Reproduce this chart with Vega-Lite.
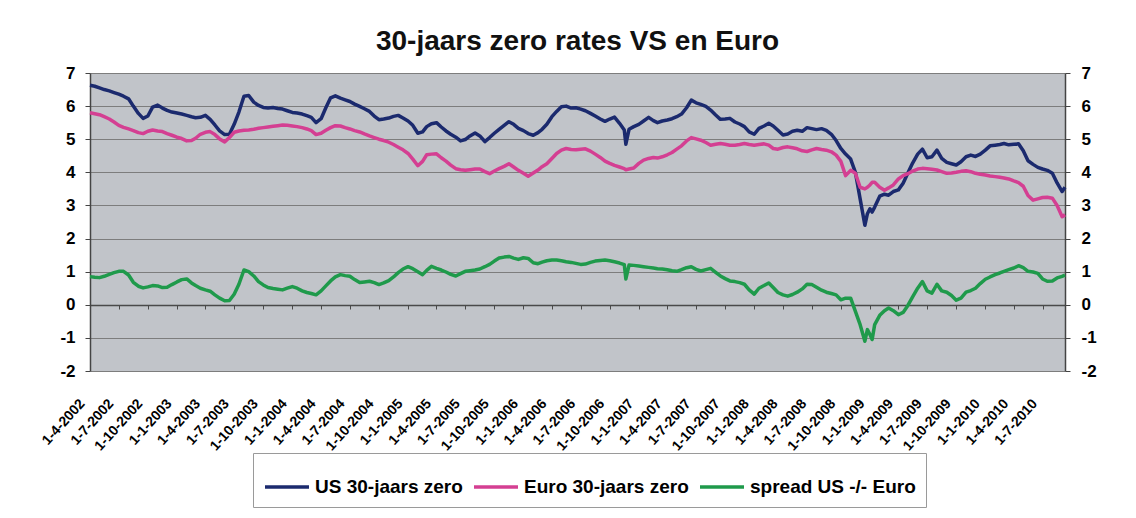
{
  "$schema": "https://vega.github.io/schema/vega-lite/v6.json",
  "width": 975,
  "height": 298,
  "autosize": "none",
  "padding": {"left": 90, "top": 73, "right": 71, "bottom": 147},
  "background": "white",
  "view": {"fill": "#c1c4c9", "stroke": null},
  "title": {"text": "30-jaars zero rates VS en Euro", "font": "Liberation Sans", "fontSize": 28, "fontWeight": "bold", "color": "#111111", "anchor": "middle", "offset": 8},
  "data": {"values": [
    {"d":"2002-04-01","us":6.63,"eu":5.80,"sp":0.85},
    {"d":"2002-04-16","us":6.60,"eu":5.77,"sp":0.83},
    {"d":"2002-05-01","us":6.55,"eu":5.74,"sp":0.82},
    {"d":"2002-05-16","us":6.50,"eu":5.68,"sp":0.86},
    {"d":"2002-06-01","us":6.46,"eu":5.61,"sp":0.92},
    {"d":"2002-06-16","us":6.41,"eu":5.52,"sp":0.97},
    {"d":"2002-07-01","us":6.36,"eu":5.42,"sp":1.01},
    {"d":"2002-07-16","us":6.30,"eu":5.36,"sp":1.01},
    {"d":"2002-08-01","us":6.22,"eu":5.31,"sp":0.90},
    {"d":"2002-08-16","us":6.00,"eu":5.26,"sp":0.68},
    {"d":"2002-09-01","us":5.78,"eu":5.20,"sp":0.56},
    {"d":"2002-09-16","us":5.63,"eu":5.17,"sp":0.51},
    {"d":"2002-10-01","us":5.70,"eu":5.24,"sp":0.54},
    {"d":"2002-10-16","us":5.97,"eu":5.28,"sp":0.58},
    {"d":"2002-11-01","us":6.03,"eu":5.25,"sp":0.57},
    {"d":"2002-11-16","us":5.94,"eu":5.23,"sp":0.52},
    {"d":"2002-12-01","us":5.87,"eu":5.17,"sp":0.53},
    {"d":"2002-12-16","us":5.82,"eu":5.12,"sp":0.61},
    {"d":"2003-01-01","us":5.79,"eu":5.06,"sp":0.69},
    {"d":"2003-01-16","us":5.76,"eu":5.02,"sp":0.76},
    {"d":"2003-02-01","us":5.72,"eu":4.95,"sp":0.78},
    {"d":"2003-02-16","us":5.68,"eu":4.96,"sp":0.66},
    {"d":"2003-03-01","us":5.65,"eu":5.03,"sp":0.58},
    {"d":"2003-03-16","us":5.66,"eu":5.15,"sp":0.50},
    {"d":"2003-04-01","us":5.72,"eu":5.21,"sp":0.45},
    {"d":"2003-04-16","us":5.60,"eu":5.23,"sp":0.41},
    {"d":"2003-05-01","us":5.43,"eu":5.14,"sp":0.30},
    {"d":"2003-05-16","us":5.25,"eu":5.01,"sp":0.20},
    {"d":"2003-06-01","us":5.14,"eu":4.92,"sp":0.12},
    {"d":"2003-06-16","us":5.15,"eu":5.05,"sp":0.13},
    {"d":"2003-07-01","us":5.45,"eu":5.21,"sp":0.32},
    {"d":"2003-07-16","us":5.82,"eu":5.25,"sp":0.62},
    {"d":"2003-08-01","us":6.30,"eu":5.27,"sp":1.05},
    {"d":"2003-08-16","us":6.32,"eu":5.28,"sp":1.00},
    {"d":"2003-09-01","us":6.12,"eu":5.30,"sp":0.87},
    {"d":"2003-09-16","us":6.02,"eu":5.33,"sp":0.70},
    {"d":"2003-10-01","us":5.96,"eu":5.35,"sp":0.60},
    {"d":"2003-10-16","us":5.94,"eu":5.37,"sp":0.52},
    {"d":"2003-11-01","us":5.96,"eu":5.39,"sp":0.49},
    {"d":"2003-11-16","us":5.93,"eu":5.41,"sp":0.47},
    {"d":"2003-12-01","us":5.91,"eu":5.43,"sp":0.45},
    {"d":"2003-12-16","us":5.86,"eu":5.42,"sp":0.50},
    {"d":"2004-01-01","us":5.81,"eu":5.40,"sp":0.55},
    {"d":"2004-01-16","us":5.79,"eu":5.38,"sp":0.50},
    {"d":"2004-02-01","us":5.76,"eu":5.35,"sp":0.42},
    {"d":"2004-02-16","us":5.71,"eu":5.31,"sp":0.37},
    {"d":"2004-03-01","us":5.66,"eu":5.26,"sp":0.34},
    {"d":"2004-03-16","us":5.50,"eu":5.14,"sp":0.30},
    {"d":"2004-04-01","us":5.62,"eu":5.18,"sp":0.42},
    {"d":"2004-04-16","us":5.95,"eu":5.27,"sp":0.57},
    {"d":"2004-05-01","us":6.25,"eu":5.35,"sp":0.72},
    {"d":"2004-05-16","us":6.31,"eu":5.41,"sp":0.84},
    {"d":"2004-06-01","us":6.24,"eu":5.40,"sp":0.91},
    {"d":"2004-06-16","us":6.19,"eu":5.35,"sp":0.88},
    {"d":"2004-07-01","us":6.14,"eu":5.31,"sp":0.86},
    {"d":"2004-07-16","us":6.06,"eu":5.26,"sp":0.76},
    {"d":"2004-08-01","us":5.99,"eu":5.22,"sp":0.67},
    {"d":"2004-08-16","us":5.92,"eu":5.16,"sp":0.69},
    {"d":"2004-09-01","us":5.84,"eu":5.10,"sp":0.71},
    {"d":"2004-09-16","us":5.70,"eu":5.05,"sp":0.67},
    {"d":"2004-10-01","us":5.59,"eu":5.00,"sp":0.61},
    {"d":"2004-10-16","us":5.61,"eu":4.96,"sp":0.66},
    {"d":"2004-11-01","us":5.64,"eu":4.91,"sp":0.73},
    {"d":"2004-11-16","us":5.69,"eu":4.84,"sp":0.84},
    {"d":"2004-12-01","us":5.72,"eu":4.76,"sp":0.97},
    {"d":"2004-12-16","us":5.64,"eu":4.68,"sp":1.08},
    {"d":"2005-01-01","us":5.55,"eu":4.57,"sp":1.15},
    {"d":"2005-01-16","us":5.42,"eu":4.40,"sp":1.09},
    {"d":"2005-02-01","us":5.18,"eu":4.20,"sp":1.00},
    {"d":"2005-02-16","us":5.22,"eu":4.33,"sp":0.91},
    {"d":"2005-03-01","us":5.38,"eu":4.53,"sp":1.04},
    {"d":"2005-03-16","us":5.47,"eu":4.55,"sp":1.16},
    {"d":"2005-04-01","us":5.50,"eu":4.56,"sp":1.10},
    {"d":"2005-04-16","us":5.37,"eu":4.44,"sp":1.05},
    {"d":"2005-05-01","us":5.25,"eu":4.34,"sp":0.99},
    {"d":"2005-05-16","us":5.15,"eu":4.22,"sp":0.92},
    {"d":"2005-06-01","us":5.06,"eu":4.11,"sp":0.87},
    {"d":"2005-06-16","us":4.95,"eu":4.08,"sp":0.94},
    {"d":"2005-07-01","us":4.99,"eu":4.06,"sp":1.01},
    {"d":"2005-07-16","us":5.10,"eu":4.08,"sp":1.03},
    {"d":"2005-08-01","us":5.19,"eu":4.10,"sp":1.05},
    {"d":"2005-08-16","us":5.10,"eu":4.10,"sp":1.08},
    {"d":"2005-09-01","us":4.93,"eu":4.02,"sp":1.15},
    {"d":"2005-09-16","us":5.05,"eu":3.96,"sp":1.22},
    {"d":"2005-10-01","us":5.18,"eu":4.04,"sp":1.32},
    {"d":"2005-10-16","us":5.30,"eu":4.11,"sp":1.41},
    {"d":"2005-11-01","us":5.42,"eu":4.18,"sp":1.44},
    {"d":"2005-11-16","us":5.53,"eu":4.26,"sp":1.46},
    {"d":"2005-12-01","us":5.45,"eu":4.16,"sp":1.41},
    {"d":"2005-12-16","us":5.33,"eu":4.06,"sp":1.37},
    {"d":"2006-01-01","us":5.26,"eu":3.97,"sp":1.42},
    {"d":"2006-01-16","us":5.17,"eu":3.88,"sp":1.40},
    {"d":"2006-02-01","us":5.12,"eu":3.98,"sp":1.27},
    {"d":"2006-02-16","us":5.20,"eu":4.07,"sp":1.24},
    {"d":"2006-03-01","us":5.30,"eu":4.17,"sp":1.29},
    {"d":"2006-03-16","us":5.45,"eu":4.26,"sp":1.33},
    {"d":"2006-04-01","us":5.68,"eu":4.42,"sp":1.35},
    {"d":"2006-04-16","us":5.84,"eu":4.57,"sp":1.35},
    {"d":"2006-05-01","us":5.98,"eu":4.67,"sp":1.33},
    {"d":"2006-05-16","us":6.00,"eu":4.72,"sp":1.30},
    {"d":"2006-06-01","us":5.94,"eu":4.69,"sp":1.28},
    {"d":"2006-06-16","us":5.95,"eu":4.68,"sp":1.25},
    {"d":"2006-07-01","us":5.91,"eu":4.70,"sp":1.22},
    {"d":"2006-07-16","us":5.86,"eu":4.71,"sp":1.23},
    {"d":"2006-08-01","us":5.78,"eu":4.64,"sp":1.28},
    {"d":"2006-08-16","us":5.70,"eu":4.55,"sp":1.32},
    {"d":"2006-09-01","us":5.61,"eu":4.45,"sp":1.34},
    {"d":"2006-09-16","us":5.54,"eu":4.34,"sp":1.35},
    {"d":"2006-10-01","us":5.61,"eu":4.27,"sp":1.33},
    {"d":"2006-10-16","us":5.67,"eu":4.21,"sp":1.30},
    {"d":"2006-11-01","us":5.48,"eu":4.16,"sp":1.26},
    {"d":"2006-11-16","us":5.28,"eu":4.11,"sp":1.21},
    {"d":"2006-11-21","us":4.85,"eu":4.08,"sp":0.78},
    {"d":"2006-12-01","us":5.30,"eu":4.10,"sp":1.20},
    {"d":"2006-12-16","us":5.38,"eu":4.13,"sp":1.19},
    {"d":"2007-01-01","us":5.45,"eu":4.27,"sp":1.17},
    {"d":"2007-01-16","us":5.55,"eu":4.37,"sp":1.15},
    {"d":"2007-02-01","us":5.66,"eu":4.42,"sp":1.13},
    {"d":"2007-02-16","us":5.56,"eu":4.45,"sp":1.11},
    {"d":"2007-03-01","us":5.50,"eu":4.43,"sp":1.09},
    {"d":"2007-03-16","us":5.55,"eu":4.47,"sp":1.08},
    {"d":"2007-04-01","us":5.58,"eu":4.53,"sp":1.06},
    {"d":"2007-04-16","us":5.62,"eu":4.60,"sp":1.03},
    {"d":"2007-05-01","us":5.68,"eu":4.70,"sp":1.01},
    {"d":"2007-05-16","us":5.76,"eu":4.80,"sp":1.06},
    {"d":"2007-06-01","us":5.95,"eu":4.95,"sp":1.12},
    {"d":"2007-06-16","us":6.18,"eu":5.05,"sp":1.15},
    {"d":"2007-07-01","us":6.10,"eu":5.01,"sp":1.07},
    {"d":"2007-07-16","us":6.05,"eu":4.97,"sp":1.02},
    {"d":"2007-08-01","us":5.99,"eu":4.90,"sp":1.06},
    {"d":"2007-08-16","us":5.88,"eu":4.82,"sp":1.10},
    {"d":"2007-09-01","us":5.73,"eu":4.85,"sp":0.98},
    {"d":"2007-09-16","us":5.60,"eu":4.87,"sp":0.87},
    {"d":"2007-10-01","us":5.61,"eu":4.85,"sp":0.79},
    {"d":"2007-10-16","us":5.63,"eu":4.82,"sp":0.72},
    {"d":"2007-11-01","us":5.52,"eu":4.82,"sp":0.70},
    {"d":"2007-11-16","us":5.46,"eu":4.84,"sp":0.67},
    {"d":"2007-12-01","us":5.38,"eu":4.87,"sp":0.62},
    {"d":"2007-12-16","us":5.22,"eu":4.84,"sp":0.45},
    {"d":"2008-01-01","us":5.15,"eu":4.82,"sp":0.32},
    {"d":"2008-01-16","us":5.33,"eu":4.84,"sp":0.50},
    {"d":"2008-02-01","us":5.40,"eu":4.86,"sp":0.58},
    {"d":"2008-02-16","us":5.48,"eu":4.82,"sp":0.66},
    {"d":"2008-03-01","us":5.40,"eu":4.72,"sp":0.52},
    {"d":"2008-03-16","us":5.27,"eu":4.70,"sp":0.37},
    {"d":"2008-04-01","us":5.13,"eu":4.75,"sp":0.30},
    {"d":"2008-04-16","us":5.16,"eu":4.77,"sp":0.26},
    {"d":"2008-05-01","us":5.24,"eu":4.74,"sp":0.31},
    {"d":"2008-05-16","us":5.27,"eu":4.71,"sp":0.38},
    {"d":"2008-06-01","us":5.24,"eu":4.65,"sp":0.48},
    {"d":"2008-06-16","us":5.35,"eu":4.63,"sp":0.62},
    {"d":"2008-07-01","us":5.32,"eu":4.68,"sp":0.61},
    {"d":"2008-07-16","us":5.29,"eu":4.72,"sp":0.53},
    {"d":"2008-08-01","us":5.32,"eu":4.69,"sp":0.44},
    {"d":"2008-08-16","us":5.27,"eu":4.67,"sp":0.38},
    {"d":"2008-09-01","us":5.15,"eu":4.62,"sp":0.34},
    {"d":"2008-09-16","us":4.96,"eu":4.52,"sp":0.30},
    {"d":"2008-10-01","us":4.72,"eu":4.33,"sp":0.15},
    {"d":"2008-10-16","us":4.55,"eu":3.90,"sp":0.20},
    {"d":"2008-11-01","us":4.40,"eu":4.06,"sp":0.20},
    {"d":"2008-11-16","us":4.00,"eu":3.97,"sp":-0.20},
    {"d":"2008-12-01","us":3.20,"eu":3.55,"sp":-0.60},
    {"d":"2008-12-16","us":2.40,"eu":3.50,"sp":-1.10},
    {"d":"2008-12-24","us":2.75,"eu":3.55,"sp":-0.75},
    {"d":"2009-01-01","us":2.90,"eu":3.62,"sp":-0.90},
    {"d":"2009-01-08","us":2.80,"eu":3.70,"sp":-1.05},
    {"d":"2009-01-16","us":2.95,"eu":3.70,"sp":-0.60},
    {"d":"2009-02-01","us":3.28,"eu":3.55,"sp":-0.32},
    {"d":"2009-02-16","us":3.34,"eu":3.46,"sp":-0.18},
    {"d":"2009-03-01","us":3.31,"eu":3.53,"sp":-0.10},
    {"d":"2009-03-16","us":3.42,"eu":3.62,"sp":-0.18},
    {"d":"2009-04-01","us":3.47,"eu":3.80,"sp":-0.30},
    {"d":"2009-04-16","us":3.67,"eu":3.90,"sp":-0.23},
    {"d":"2009-05-01","us":3.98,"eu":3.96,"sp":-0.02},
    {"d":"2009-05-16","us":4.28,"eu":4.04,"sp":0.24},
    {"d":"2009-06-01","us":4.55,"eu":4.10,"sp":0.50},
    {"d":"2009-06-16","us":4.70,"eu":4.12,"sp":0.70},
    {"d":"2009-07-01","us":4.44,"eu":4.11,"sp":0.42},
    {"d":"2009-07-16","us":4.47,"eu":4.09,"sp":0.35},
    {"d":"2009-08-01","us":4.67,"eu":4.07,"sp":0.62},
    {"d":"2009-08-16","us":4.42,"eu":4.02,"sp":0.42},
    {"d":"2009-09-01","us":4.30,"eu":3.97,"sp":0.38},
    {"d":"2009-09-16","us":4.26,"eu":3.98,"sp":0.28},
    {"d":"2009-10-01","us":4.22,"eu":4.00,"sp":0.14},
    {"d":"2009-10-16","us":4.32,"eu":4.03,"sp":0.20},
    {"d":"2009-11-01","us":4.47,"eu":4.05,"sp":0.38},
    {"d":"2009-11-16","us":4.52,"eu":4.02,"sp":0.43},
    {"d":"2009-12-01","us":4.48,"eu":3.97,"sp":0.50},
    {"d":"2009-12-16","us":4.55,"eu":3.94,"sp":0.64},
    {"d":"2010-01-01","us":4.67,"eu":3.92,"sp":0.77},
    {"d":"2010-01-16","us":4.80,"eu":3.89,"sp":0.84},
    {"d":"2010-02-01","us":4.82,"eu":3.87,"sp":0.91},
    {"d":"2010-02-16","us":4.84,"eu":3.85,"sp":0.96},
    {"d":"2010-03-01","us":4.87,"eu":3.83,"sp":1.01},
    {"d":"2010-03-16","us":4.83,"eu":3.80,"sp":1.06},
    {"d":"2010-04-01","us":4.85,"eu":3.74,"sp":1.11},
    {"d":"2010-04-16","us":4.86,"eu":3.69,"sp":1.18},
    {"d":"2010-05-01","us":4.65,"eu":3.58,"sp":1.12},
    {"d":"2010-05-16","us":4.35,"eu":3.30,"sp":1.01},
    {"d":"2010-06-01","us":4.24,"eu":3.16,"sp":0.99},
    {"d":"2010-06-16","us":4.15,"eu":3.20,"sp":0.95},
    {"d":"2010-07-01","us":4.10,"eu":3.24,"sp":0.78},
    {"d":"2010-07-16","us":4.06,"eu":3.25,"sp":0.71},
    {"d":"2010-08-01","us":3.97,"eu":3.22,"sp":0.72},
    {"d":"2010-08-16","us":3.68,"eu":3.00,"sp":0.81},
    {"d":"2010-09-01","us":3.42,"eu":2.66,"sp":0.86},
    {"d":"2010-09-10","us":3.55,"eu":2.72,"sp":0.90}
  ]},
  "transform": [{"fold": ["us", "eu", "sp"], "as": ["series", "value"]}],
  "resolve": {"axis": {"x": "independent", "y": "independent"}},
  "layer": [
    {
      "mark": {"type": "line", "strokeWidth": 3.5, "strokeJoin": "round"},
      "encoding": {
        "x": {
          "field": "d", "type": "temporal",
          "scale": {"type": "utc", "domain": [{"year": 2002, "month": 4, "date": 1, "utc": true}, {"year": 2010, "month": 9, "date": 10, "utc": true}]},
          "axis": {
            "title": null, "orient": "bottom", "grid": false, "domain": false, "ticks": false,
            "values": [
              {"year":2002,"month":4,"date":1,"utc":true},{"year":2002,"month":7,"date":1,"utc":true},{"year":2002,"month":10,"date":1,"utc":true},
              {"year":2003,"month":1,"date":1,"utc":true},{"year":2003,"month":4,"date":1,"utc":true},{"year":2003,"month":7,"date":1,"utc":true},{"year":2003,"month":10,"date":1,"utc":true},
              {"year":2004,"month":1,"date":1,"utc":true},{"year":2004,"month":4,"date":1,"utc":true},{"year":2004,"month":7,"date":1,"utc":true},{"year":2004,"month":10,"date":1,"utc":true},
              {"year":2005,"month":1,"date":1,"utc":true},{"year":2005,"month":4,"date":1,"utc":true},{"year":2005,"month":7,"date":1,"utc":true},{"year":2005,"month":10,"date":1,"utc":true},
              {"year":2006,"month":1,"date":1,"utc":true},{"year":2006,"month":4,"date":1,"utc":true},{"year":2006,"month":7,"date":1,"utc":true},{"year":2006,"month":10,"date":1,"utc":true},
              {"year":2007,"month":1,"date":1,"utc":true},{"year":2007,"month":4,"date":1,"utc":true},{"year":2007,"month":7,"date":1,"utc":true},{"year":2007,"month":10,"date":1,"utc":true},
              {"year":2008,"month":1,"date":1,"utc":true},{"year":2008,"month":4,"date":1,"utc":true},{"year":2008,"month":7,"date":1,"utc":true},{"year":2008,"month":10,"date":1,"utc":true},
              {"year":2009,"month":1,"date":1,"utc":true},{"year":2009,"month":4,"date":1,"utc":true},{"year":2009,"month":7,"date":1,"utc":true},{"year":2009,"month":10,"date":1,"utc":true},
              {"year":2010,"month":1,"date":1,"utc":true},{"year":2010,"month":4,"date":1,"utc":true},{"year":2010,"month":7,"date":1,"utc":true}
            ],
            "labelExpr": "utcFormat(datum.value, '%-d-%-m-%Y')",
            "labelAngle": -48, "labelAlign": "right", "labelBaseline": "middle",
            "labelFont": "Liberation Sans", "labelFontSize": 14, "labelFontWeight": "bold", "labelColor": "#000000",
            "labelPadding": 30, "labelOffset": -8, "labelOverlap": false, "labelBound": false, "labelFlush": false
          }
        },
        "y": {
          "field": "value", "type": "quantitative",
          "scale": {"domain": [-2, 7], "nice": false, "zero": false},
          "axis": {
            "title": null, "orient": "left", "values": [-2, -1, 0, 1, 2, 3, 4, 5, 6, 7],
            "labelExpr": "'' + datum.value",
            "grid": true, "gridColor": "#7d7d7d", "gridWidth": 1,
            "domain": true, "domainColor": "#444444", "domainWidth": 1.5,
            "ticks": true, "tickSize": 5, "tickColor": "#444444",
            "labelFont": "Liberation Sans", "labelFontSize": 17, "labelFontWeight": "bold", "labelColor": "#000000", "labelPadding": 10
          }
        },
        "color": {
          "field": "series", "type": "nominal",
          "scale": {"domain": ["us", "eu", "sp"], "range": ["#1b2a6e", "#d43f92", "#1f9a4b"]},
          "legend": {
            "title": null, "orient": "none", "legendX": 163, "legendY": 380, "direction": "horizontal",
            "symbolType": "stroke", "symbolSize": 1936, "symbolStrokeWidth": 3.5,
            "labelExpr": "datum.label == 'us' ? 'US 30-jaars zero' : datum.label == 'eu' ? 'Euro 30-jaars zero' : 'spread US -/- Euro'",
            "labelFont": "Liberation Sans", "labelFontSize": 19, "labelFontWeight": "bold", "labelColor": "#000000",
            "labelOffset": 4, "columnPadding": 4, "padding": 10,
            "fillColor": "#ffffff", "strokeColor": "#9a9a9a", "labelLimit": 400
          }
        }
      }
    },
    {
      "mark": {"type": "line", "opacity": 0},
      "encoding": {
        "x": {
          "field": "d", "type": "temporal",
          "axis": {
            "title": null, "orient": "bottom", "offset": -66, "labels": false, "grid": false,
            "domain": true, "domainColor": "#4a4a4a", "domainWidth": 1.5,
            "ticks": true, "tickSize": 4, "tickColor": "#4a4a4a",
            "values": [
              {"year":2002,"month":4,"date":1,"utc":true},{"year":2002,"month":7,"date":1,"utc":true},{"year":2002,"month":10,"date":1,"utc":true},
              {"year":2003,"month":1,"date":1,"utc":true},{"year":2003,"month":4,"date":1,"utc":true},{"year":2003,"month":7,"date":1,"utc":true},{"year":2003,"month":10,"date":1,"utc":true},
              {"year":2004,"month":1,"date":1,"utc":true},{"year":2004,"month":4,"date":1,"utc":true},{"year":2004,"month":7,"date":1,"utc":true},{"year":2004,"month":10,"date":1,"utc":true},
              {"year":2005,"month":1,"date":1,"utc":true},{"year":2005,"month":4,"date":1,"utc":true},{"year":2005,"month":7,"date":1,"utc":true},{"year":2005,"month":10,"date":1,"utc":true},
              {"year":2006,"month":1,"date":1,"utc":true},{"year":2006,"month":4,"date":1,"utc":true},{"year":2006,"month":7,"date":1,"utc":true},{"year":2006,"month":10,"date":1,"utc":true},
              {"year":2007,"month":1,"date":1,"utc":true},{"year":2007,"month":4,"date":1,"utc":true},{"year":2007,"month":7,"date":1,"utc":true},{"year":2007,"month":10,"date":1,"utc":true},
              {"year":2008,"month":1,"date":1,"utc":true},{"year":2008,"month":4,"date":1,"utc":true},{"year":2008,"month":7,"date":1,"utc":true},{"year":2008,"month":10,"date":1,"utc":true},
              {"year":2009,"month":1,"date":1,"utc":true},{"year":2009,"month":4,"date":1,"utc":true},{"year":2009,"month":7,"date":1,"utc":true},{"year":2009,"month":10,"date":1,"utc":true},
              {"year":2010,"month":1,"date":1,"utc":true},{"year":2010,"month":4,"date":1,"utc":true},{"year":2010,"month":7,"date":1,"utc":true}
            ]
          }
        },
        "y": {
          "field": "value", "type": "quantitative",
          "axis": {
            "title": null, "orient": "right", "values": [-2, -1, 0, 1, 2, 3, 4, 5, 6, 7], "grid": false,
            "labelExpr": "'' + datum.value",
            "domain": true, "domainColor": "#444444", "domainWidth": 1.5,
            "ticks": true, "tickSize": 5, "tickColor": "#444444",
            "labelFont": "Liberation Sans", "labelFontSize": 17, "labelFontWeight": "bold", "labelColor": "#000000", "labelPadding": 11
          }
        }
      }
    }
  ]
}
